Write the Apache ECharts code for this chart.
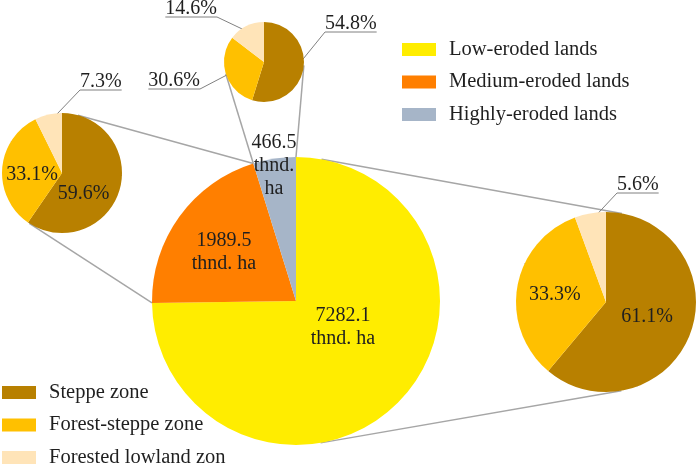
<!DOCTYPE html>
<html>
<head>
<meta charset="utf-8">
<title>Eroded lands</title>
<script src="https://cdn.jsdelivr.net/npm/echarts@6.0.0/dist/echarts.min.js"></script>
<style>
  html, body { margin: 0; padding: 0; background: #fff; }
  #main { width: 699px; height: 464px; }
</style>
</head>
<body>
<div id="main"></div>
<script>
// data
var erosionNames = ['Low-eroded lands', 'Medium-eroded lands', 'Highly-eroded lands'];
var erosionArea = [7282.1, 1989.5, 466.5];        // thnd. ha
var areaUnit = ['thnd. ha', 'thnd. ha', 'thnd.\nha'];
var zoneNames = ['Steppe zone', 'Forest-steppe zone', 'Forested lowland zon'];
var lowShare = [61.1, 33.3, 5.6];                 // % of low-eroded lands
var mediumShare = [59.6, 33.1, 7.3];              // % of medium-eroded lands
var highShare = [54.8, 30.6, 14.6];               // % of highly-eroded lands

var erosionColors = ['#FFED00', '#FF7F00', '#A6B5C8'];
var zoneColors = ['#B88000', '#FFC000', '#FFE4B8'];
var FONT = "'Liberation Serif', 'Times New Roman', serif";
var TXT = '#1F1F1F';

// layout of the four pies
var mainC = [296, 301], mainR = 144;
var lowC = [606, 302], lowR = 90;
var medC = [62, 173], medR = 60;
var highC = [264, 62], highR = 40;

// label spots (x, y, align) for the big pie and the outside labels
var mainSpots = [[343, 327], [224, 252], [274, 166]];
var lowSpots = { 2: [617, 193, 'left'] };
var medSpots = { 2: [80, 90, 'left'] };
var highSpots = { 0: [325, 32, 'left'], 1: [200, 89, 'right'], 2: [217, 17, 'right'] };
// small shifts of some inside labels
var lowNudge = { 0: [-4, -2], 1: [-4, 1] };
var medNudge = { 0: [-10, 11], 1: [3, 4] };
var highNudge = {};

var myChart = echarts.init(document.getElementById('main'));

function zoneData(values, spots) {
	var out = [];
	for (var i = 0; i < values.length; i++) {
		var item = { name: zoneNames[i], value: values[i] };
		if (spots[i]) {
			item.label = { position: 'outside' };
			item.labelLine = { show: true };
		}
		out.push(item);
	}
	return out;
}

// leader line: from slice to the near end of an underline under the text
function zoneLayout(center, spots, nudge) {
	return function (params) {
		var rect = params.labelRect;
		var spot = spots[params.dataIndex];
		if (!spot || !params.labelLinePoints) {
			var n = nudge[params.dataIndex];
			if (!n) return;
			return {
				x: rect.x + rect.width / 2 + n[0],
				y: rect.y + rect.height / 2 + n[1],
				align: 'center',
				verticalAlign: 'middle'
			};
		}
		var p0 = params.labelLinePoints[0];
		var dx = center[0] - p0[0], dy = center[1] - p0[1];
		var d = Math.sqrt(dx * dx + dy * dy) || 1;
		var start = [p0[0] + dx / d * 7, p0[1] + dy / d * 7];
		var far = spot[2] === 'left' ? spot[0] + rect.width : spot[0] - rect.width;
		return {
			x: spot[0],
			y: spot[1] + 2,
			align: spot[2],
			verticalAlign: 'bottom',
			labelLinePoints: [start, [spot[0], spot[1]], [far, spot[1]]]
		};
	};
}

function zonePie(center, r, values, spots, nudge) {
	return {
		type: 'pie',
		center: center,
		radius: r,
		startAngle: 90,
		clockwise: true,
		avoidLabelOverlap: false,
		silent: true,
		color: zoneColors,
		label: {
			position: 'inside',
			fontFamily: FONT,
			fontSize: 20,
			color: TXT,
			formatter: function (p) { return p.value.toFixed(1) + '%'; }
		},
		labelLine: { show: true, length: 10, length2: 10, lineStyle: { color: '#808080', width: 1 } },
		labelLayout: zoneLayout(center, spots, nudge),
		data: zoneData(values, spots)
	};
}

// connector lines between the big pie and the small pies
function onCircle(c, r, ang) { // ang in radians, screen coords
	return [c[0] + r * Math.cos(ang), c[1] + r * Math.sin(ang)];
}
function mainPoint(deg) { // clockwise from 12 o'clock
	return onCircle(mainC, mainR, (deg - 90) * Math.PI / 180);
}
function tangentPoint(p, c, r, sign) {
	var dx = p[0] - c[0], dy = p[1] - c[1];
	var d = Math.sqrt(dx * dx + dy * dy);
	var base = Math.atan2(dy, dx);
	return onCircle(c, r, base + sign * Math.acos(r / d));
}

var total = 0;
for (var i = 0; i < erosionArea.length; i++) total += erosionArea[i];
var lowEnd = erosionArea[0] / total * 360;
var medEnd = (erosionArea[0] + erosionArea[1]) / total * 360;

var lines = [];
function addLine(a, b) {
	lines.push({
		type: 'line',
		silent: true,
		shape: { x1: a[0], y1: a[1], x2: b[0], y2: b[1] },
		style: { stroke: '#A6A6A6', lineWidth: 1.5 }
	});
}
// medium-eroded -> left pie
var pMedTop = mainPoint(medEnd), pMedBot = mainPoint(lowEnd);
addLine(pMedTop, tangentPoint(pMedTop, medC, medR, -1));
addLine(pMedBot, tangentPoint(pMedBot, medC, medR, 1));
// highly-eroded -> top pie
var pHighTop = mainPoint(360);
addLine(pMedTop, tangentPoint(pMedTop, highC, highR, 1));
addLine(pHighTop, tangentPoint(pHighTop, highC, highR, -1));
// low-eroded -> right pie (outer tangents)
var phi = Math.atan2(lowC[1] - mainC[1], lowC[0] - mainC[0]);
var D = Math.sqrt(Math.pow(lowC[0] - mainC[0], 2) + Math.pow(lowC[1] - mainC[1], 2));
var alpha = Math.acos((mainR - lowR) / D);
addLine(onCircle(mainC, mainR, phi - alpha), onCircle(lowC, lowR, phi - alpha));
addLine(onCircle(mainC, mainR, phi + alpha), onCircle(lowC, lowR, phi + alpha));

var mainData = [];
for (var i = 0; i < erosionNames.length; i++) {
	mainData.push({ name: erosionNames[i], value: erosionArea[i] });
}

var legendText = { fontFamily: FONT, fontSize: 20.5, color: TXT, padding: [0, 0, 0, 8] };

var option = {
	animation: false,
	graphic: lines,
	legend: [ {
		data: erosionNames,
		orient: 'vertical',
		left: 402,
		top: 39,
		padding: 0,
		icon: 'rect',
		itemWidth: 34,
		itemHeight: 13,
		itemGap: 11.5,
		selectedMode: false,
		textStyle: legendText
	}, {
		data: zoneNames,
		orient: 'vertical',
		left: 2,
		top: 382,
		height: 120,
		padding: 0,
		icon: 'rect',
		itemWidth: 34,
		itemHeight: 13,
		itemGap: 11.5,
		selectedMode: false,
		textStyle: legendText
	} ],
	series: [ {
		name: 'Eroded lands',
		type: 'pie',
		center: mainC,
		radius: mainR,
		startAngle: 90,
		clockwise: true,
		avoidLabelOverlap: false,
		silent: true,
		color: erosionColors,
		label: {
			position: 'inside',
			fontFamily: FONT,
			fontSize: 20,
			lineHeight: 23,
			color: TXT,
			formatter: function (p) {
				return p.value.toFixed(1) + '\n' + areaUnit[p.dataIndex];
			}
		},
		labelLine: { show: false },
		labelLayout: function (params) {
			var s = mainSpots[params.dataIndex];
			return { x: s[0], y: s[1], align: 'center', verticalAlign: 'middle' };
		},
		data: mainData
	},
	zonePie(medC, medR, mediumShare, medSpots, medNudge),
	zonePie(highC, highR, highShare, highSpots, highNudge),
	zonePie(lowC, lowR, lowShare, lowSpots, lowNudge) ]
};

myChart.setOption(option);
</script>
</body>
</html>
